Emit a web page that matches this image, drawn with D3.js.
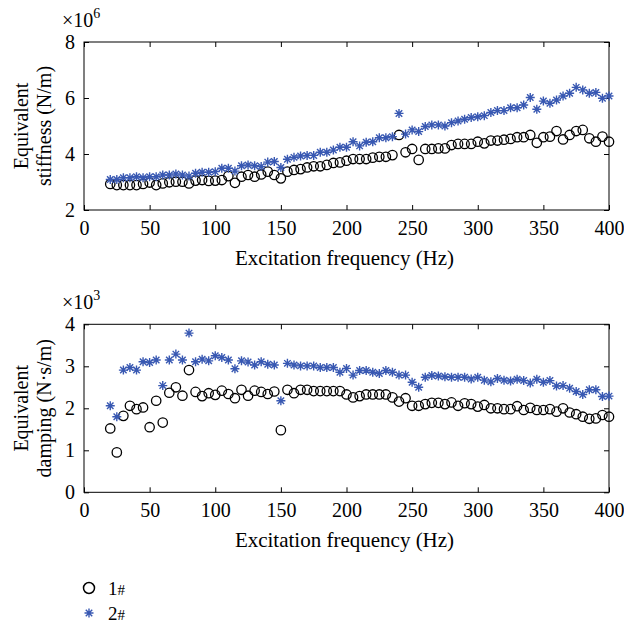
<!DOCTYPE html>
<html><head><meta charset="utf-8">
<script src="https://cdn.jsdelivr.net/npm/d3@7"></script>
<style>body{margin:0;background:#fff}svg{display:block}text{font-family:"Liberation Serif","Times New Roman",serif;fill:#000}</style>
</head><body><svg id="c" width="624" height="629"></svg>
<script>
const freq = [20,25,30,35,40,45,50,55,60,65,70,75,80,85,90,95,100,105,110,115,120,125,130,135,140,145,150,155,160,165,170,175,180,185,190,195,200,205,210,215,220,225,230,235,240,245,250,255,260,265,270,275,280,285,290,295,300,305,310,315,320,325,330,335,340,345,350,355,360,365,370,375,380,385,390,395,400];
// Equivalent stiffness (x10^6 N/m)
const stiff1 = [2.93,2.89,2.89,2.89,2.89,2.93,2.98,2.89,2.95,2.99, 3.01,3.01,2.95,3.05,3.07,3.04,3.05,3.07,3.21,2.97, 3.19,3.25,3.19,3.27,3.37,3.25,3.13,3.37,3.43,3.46, 3.52,3.56,3.56,3.61,3.68,3.70,3.76,3.82,3.82,3.82, 3.87,3.90,3.90,3.96,4.68,4.06,4.18,3.79,4.18,4.18, 4.20,4.20,4.32,4.36,4.36,4.36,4.44,4.38,4.48,4.48, 4.51,4.54,4.60,4.60,4.68,4.40,4.60,4.62,4.82,4.52, 4.68,4.82,4.86,4.56,4.44,4.62,4.44];
const stiff2 = [3.09,3.09,3.15,3.15,3.19,3.15,3.19,3.19,3.25,3.25, 3.29,3.25,3.21,3.31,3.35,3.35,3.37,3.49,3.49,3.39, 3.58,3.61,3.58,3.55,3.71,3.73,3.52,3.81,3.88,3.93, 3.95,3.95,4.06,4.06,4.14,4.24,4.24,4.44,4.29,4.42, 4.44,4.58,4.58,4.62,5.45,4.71,4.86,4.80,4.98,5.04, 5.04,5.00,5.12,5.18,5.24,5.30,5.33,5.37,5.48,5.55, 5.55,5.65,5.65,5.75,6.02,5.60,5.89,5.81,5.93,6.07, 6.17,6.38,6.29,6.17,6.20,5.99,6.07];
// Equivalent damping (x10^3 N·s/m)
const damp1 = [1.52,0.95,1.82,2.06,1.98,2.02,1.55,2.18,1.66,2.37, 2.50,2.30,2.91,2.39,2.29,2.36,2.32,2.42,2.34,2.24, 2.44,2.30,2.42,2.39,2.34,2.40,1.48,2.44,2.36,2.44, 2.44,2.41,2.41,2.41,2.41,2.41,2.33,2.26,2.29,2.33, 2.33,2.33,2.33,2.26,2.16,2.24,2.06,2.06,2.10,2.13, 2.13,2.10,2.14,2.06,2.12,2.10,2.04,2.08,2.00,2.00, 1.98,1.98,2.05,1.96,2.01,1.96,1.96,1.98,1.92,2.00, 1.90,1.86,1.80,1.75,1.76,1.84,1.80];
const damp2 = [2.06,1.80,2.91,2.97,2.91,3.11,3.09,3.15,2.54,3.15, 3.29,3.15,3.79,3.11,3.17,3.13,3.25,3.21,3.15,2.94, 3.13,3.10,3.03,3.11,3.05,3.03,2.18,3.07,3.03,3.01, 3.01,3.01,2.97,2.97,2.97,2.86,2.95,2.79,2.90,2.90, 2.86,2.83,2.90,2.86,2.79,2.79,2.62,2.50,2.74,2.78, 2.77,2.75,2.74,2.74,2.74,2.70,2.74,2.67,2.63,2.71, 2.67,2.65,2.69,2.66,2.60,2.69,2.62,2.66,2.53,2.54, 2.48,2.40,2.33,2.44,2.44,2.28,2.29];
const xTicks = [0,50,100,150,200,250,300,350,400];
const stiffTicks = [2,4,6,8];
const dampTicks = [0,1,2,3,4];
const seriesNames = ["1#","2#"];
const xTitle = "Excitation frequency (Hz)";

const svg = d3.select("#c");
const starColor = "#3858b2";
const starType = {draw(ctx, size){
  const r = Math.sqrt(size)/2, d = r*0.72;
  ctx.moveTo(-r,0); ctx.lineTo(r,0);
  ctx.moveTo(0,-r); ctx.lineTo(0,r);
  ctx.moveTo(-d,-d); ctx.lineTo(d,d);
  ctx.moveTo(-d,d); ctx.lineTo(d,-d);
}};
const starPath = d3.symbol().type(starType).size(81)();

function panel(cfg){
  const x = d3.scaleLinear().domain([0,400]).range([84,609]);
  const y = d3.scaleLinear().domain(cfg.domain).range([cfg.bottom, cfg.top]);
  const g = svg.append("g");
  const fs = 20;
  g.append("g").attr("transform",`translate(0,${cfg.bottom})`)
    .call(d3.axisBottom(x).tickValues(xTicks).tickSize(-5).tickSizeOuter(0).tickPadding(11).tickFormat(d3.format("d")))
    .call(a=>{a.select(".domain").remove();a.selectAll("text").attr("font-size",fs).attr("font-family","Liberation Serif");a.selectAll("line").attr("stroke","#000");});
  g.append("g").attr("transform",`translate(0,${cfg.top})`)
    .call(d3.axisTop(x).tickValues(xTicks).tickSize(-5).tickSizeOuter(0).tickFormat(""))
    .call(a=>{a.select(".domain").remove();a.selectAll("line").attr("stroke","#000");});
  g.append("g").attr("transform",`translate(84,0)`)
    .call(d3.axisLeft(y).tickValues(cfg.ticks).tickSize(-5).tickSizeOuter(0).tickPadding(9).tickFormat(d3.format("d")))
    .call(a=>{a.select(".domain").remove();a.selectAll("text").attr("font-size",fs).attr("font-family","Liberation Serif");a.selectAll("line").attr("stroke","#000");});
  g.append("g").attr("transform",`translate(609,0)`)
    .call(d3.axisRight(y).tickValues(cfg.ticks).tickSize(-5).tickSizeOuter(0).tickFormat(""))
    .call(a=>{a.select(".domain").remove();a.selectAll("line").attr("stroke","#000");});
  g.append("rect").attr("x",84).attr("y",cfg.top).attr("width",609-84).attr("height",cfg.bottom-cfg.top)
    .attr("fill","none").attr("stroke","#000").attr("stroke-width",1);
  const ex = g.append("text").attr("x",62).attr("y",cfg.top-15).attr("font-size",fs);
  ex.append("tspan").text("×10");
  ex.append("tspan").attr("font-size",14).attr("dy",-9).text(cfg.exp);
  const cy = (cfg.top+cfg.bottom)/2;
  g.append("text").attr("transform",`translate(28,${cy}) rotate(-90)`).attr("text-anchor","middle").attr("font-size",fs).text(cfg.t1);
  g.append("text").attr("transform",`translate(51,${cy}) rotate(-90)`).attr("text-anchor","middle").attr("font-size",fs).text(cfg.t2);
  g.append("text").attr("x",(84+609)/2-2).attr("y",cfg.bottom+55).attr("text-anchor","middle").attr("font-size",21).text(xTitle);
  g.append("g").selectAll("circle").data(cfg.s1).join("circle")
    .attr("cx",(d,i)=>x(freq[i])).attr("cy",d=>y(d)).attr("r",4.7)
    .attr("fill","none").attr("stroke","#000").attr("stroke-width",1.3);
  g.append("g").selectAll("path").data(cfg.s2).join("path")
    .attr("transform",(d,i)=>`translate(${x(freq[i])},${y(d)})`).attr("d",starPath)
    .attr("fill","none").attr("stroke",starColor).attr("stroke-width",1.4);
}
panel({domain:[2,8],top:42,bottom:210,ticks:stiffTicks,exp:"6",t1:"Equivalent",t2:"stiffness (N/m)",s1:stiff1,s2:stiff2});
panel({domain:[0,4],top:324.3,bottom:492.3,ticks:dampTicks,exp:"3",t1:"Equivalent",t2:"damping (N·s/m)",s1:damp1,s2:damp2});

const lg = svg.append("g");
lg.append("circle").attr("cx",89).attr("cy",588).attr("r",5.5).attr("fill","none").attr("stroke","#000").attr("stroke-width",1.5);
lg.append("path").attr("transform","translate(89,613)").attr("d",starPath).attr("fill","none").attr("stroke",starColor).attr("stroke-width",1.4);
[0,1].forEach(i=>{
  const t = lg.append("text").attr("x",108).attr("y",595+i*25).attr("font-size",19);
  t.append("tspan").text(seriesNames[i].slice(0,1));
  t.append("tspan").attr("font-size",15).text(seriesNames[i].slice(1));
});
</script></body></html>
